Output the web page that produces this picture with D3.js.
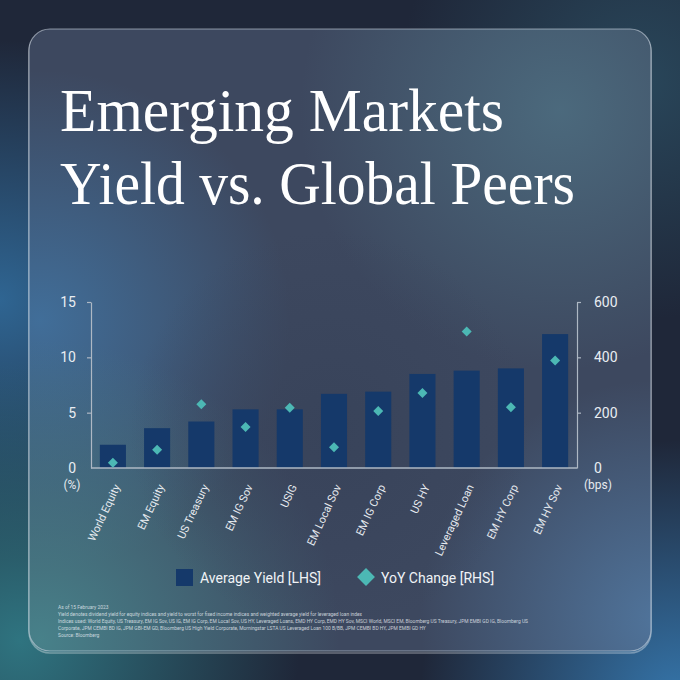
<!DOCTYPE html>
<html>
<head>
<meta charset="utf-8">
<script src="https://cdn.jsdelivr.net/npm/d3@7"></script>
<style>
  html, body { margin: 0; padding: 0; background: #222b40; }
  svg { display: block; }
  .axis path, .axis line { stroke: #aeb8c4; stroke-width: 1.2; }
  .axis text { fill: #e9edf2; font-family: Roboto, "Noto Sans", sans-serif; font-size: 14px; }
</style>
</head>
<body>
<div id="chart"></div>
<script>
// chart values
var categories = ['World Equity', 'EM Equity', 'US Treasury', 'EM IG Sov', 'USIG', 'EM Local Sov',
  'EM IG Corp', 'US HY', 'Leveraged Loan', 'EM HY Corp', 'EM HY Sov'];
var avgYield = [2.1, 3.6, 4.2, 5.3, 5.3, 6.7, 6.9, 8.5, 8.8, 9.0, 12.1];
var yoyChange = [19, 66, 230, 148, 218, 75, 206, 271, 493, 220, 389];
var leftTicks = [0, 5, 10, 15];
var rightTicks = [0, 200, 400, 600];
var titleLines = ['Emerging Markets', 'Yield vs. Global Peers'];
var legendLabels = ['Average Yield [LHS]', 'YoY Change [RHS]'];
var notes = [
  'As of 15 February 2023',
  'Yield denotes dividend yield for equity indices and yield to worst for fixed income indices and weighted average yield for leveraged loan index',
  'Indices used: World Equity, US Treasury, EM IG Sov, US IG, EM IG Corp, EM Local Sov, US HY, Leveraged Loans, EMD HY Corp, EMD HY Sov, MSCI World, MSCI EM, Bloomberg US Treasury, JPM EMBI GD IG, Bloomberg US',
  'Corporate, JPM CEMBI BD IG, JPM GBI-EM GD, Bloomberg US High Yield Corporate, Morningstar LSTA US Leveraged Loan 100 B/BB, JPM CEMBI BD HY, JPM EMBI GD HY',
  'Source: Bloomberg'
];

var W = 680, H = 680;
var barColor = '#15396a';
var dotColor = '#4cb8b4';

var svg = d3.select('#chart').append('svg')
  .attr('width', W)
  .attr('height', H);

var defs = svg.append('defs');

// soft colour blob helper
var blob = function (id, color, opacity) {
  var g = defs.append('radialGradient').attr('id', id);
  g.append('stop').attr('offset', '0%').attr('stop-color', color).attr('stop-opacity', opacity);
  g.append('stop').attr('offset', '100%').attr('stop-color', color).attr('stop-opacity', 0);
};
blob('bgLeft', '#2f6592', 1);
blob('bgTeal', '#2f7480', 1);
blob('bgRight', '#3575aa', 1);
blob('bgTop', '#2a4a5e', 0.9);
blob('cLeft', '#41709c', 0.95);
blob('cTeal', '#48848c', 0.95);
blob('cTopRight', '#4d6d80', 0.9);
blob('cBotRight', '#5279a2', 0.9);
blob('cMid', '#374259', 0.8);

// page background
svg.append('rect').attr('width', W).attr('height', H).attr('fill', '#1f2739');
var bgBlobs = [
  {id: 'bgLeft', cx: 0, cy: 300, r: 260},
  {id: 'bgTeal', cx: 20, cy: 640, r: 280},
  {id: 'bgRight', cx: 680, cy: 700, r: 260},
  {id: 'bgTop', cx: 640, cy: 80, r: 240}
];
svg.selectAll('ellipse.bg').data(bgBlobs).enter().append('ellipse')
  .attr('class', 'bg')
  .attr('cx', function (d) { return d.cx; })
  .attr('cy', function (d) { return d.cy; })
  .attr('rx', function (d) { return d.r; })
  .attr('ry', function (d) { return d.r; })
  .attr('fill', function (d) { return 'url(#' + d.id + ')'; });

// card
var card = {x: 29, y: 29, w: 622, h: 622, r: 21};
defs.append('clipPath').attr('id', 'cardClip')
  .append('rect')
  .attr('x', card.x).attr('y', card.y)
  .attr('width', card.w).attr('height', card.h)
  .attr('rx', card.r);

svg.append('rect')
  .attr('x', card.x).attr('y', card.y + 2)
  .attr('width', card.w).attr('height', card.h)
  .attr('rx', card.r)
  .attr('fill', 'none')
  .attr('stroke', 'rgba(255,255,255,0.35)')
  .attr('stroke-width', 1.5);

var cardG = svg.append('g').attr('clip-path', 'url(#cardClip)');
cardG.append('rect')
  .attr('x', card.x).attr('y', card.y)
  .attr('width', card.w).attr('height', card.h)
  .attr('fill', '#3d485f');
var cardBlobs = [
  {id: 'cLeft', cx: 40, cy: 320, r: 250},
  {id: 'cTeal', cx: 40, cy: 640, r: 300},
  {id: 'cTopRight', cx: 560, cy: 110, r: 260},
  {id: 'cBotRight', cx: 660, cy: 620, r: 240},
  {id: 'cMid', cx: 330, cy: 430, r: 200}
];
cardG.selectAll('ellipse').data(cardBlobs).enter().append('ellipse')
  .attr('cx', function (d) { return d.cx; })
  .attr('cy', function (d) { return d.cy; })
  .attr('rx', function (d) { return d.r; })
  .attr('ry', function (d) { return d.r; })
  .attr('fill', function (d) { return 'url(#' + d.id + ')'; });

svg.append('rect')
  .attr('x', card.x).attr('y', card.y)
  .attr('width', card.w).attr('height', card.h)
  .attr('rx', card.r)
  .attr('fill', 'none')
  .attr('stroke', 'rgba(220,230,240,0.55)')
  .attr('stroke-width', 1.2);

// title
var titleWidths = [444, 515];
svg.selectAll('text.title').data(titleLines).enter().append('text')
  .attr('class', 'title')
  .attr('x', 60)
  .attr('y', function (d, i) { return 131 + i * 73; })
  .attr('textLength', function (d, i) { return titleWidths[i]; })
  .attr('lengthAdjust', 'spacingAndGlyphs')
  .style('font-family', '"Liberation Serif", "DejaVu Serif", serif')
  .style('font-size', '61px')
  .style('fill', '#ffffff')
  .text(function (d) { return d; });

// scales
var plot = {left: 91, right: 577, top: 302, bottom: 468};
var x = d3.scaleBand().domain(categories).range([plot.left, plot.right]).paddingInner(0.41).paddingOuter(0.2);
var yL = d3.scaleLinear().domain([0, 15]).range([plot.bottom, plot.top]);
var yR = d3.scaleLinear().domain([0, 600]).range([plot.bottom, plot.top]);

// bars
svg.selectAll('rect.bar').data(avgYield).enter().append('rect')
  .attr('class', 'bar')
  .attr('x', function (d, i) { return x(categories[i]); })
  .attr('width', x.bandwidth())
  .attr('y', function (d) { return yL(d); })
  .attr('height', function (d) { return yL(0) - yL(d); })
  .attr('fill', barColor);

// axes
var axL = svg.append('g').attr('class', 'axis')
  .attr('transform', 'translate(' + plot.left + ',0)')
  .call(d3.axisLeft(yL).tickValues(leftTicks).tickSize(4).tickSizeOuter(0).tickPadding(11));
var axR = svg.append('g').attr('class', 'axis')
  .attr('transform', 'translate(' + plot.right + ',0)')
  .call(d3.axisRight(yR).tickValues(rightTicks).tickSize(4).tickSizeOuter(0).tickPadding(13));
axL.select('.tick:first-of-type line').remove();
axR.select('.tick:first-of-type line').remove();

svg.append('line')
  .attr('x1', plot.left).attr('x2', plot.right)
  .attr('y1', plot.bottom).attr('y2', plot.bottom)
  .attr('stroke', '#aeb8c4').attr('stroke-width', 1.4);

// diamonds
var diamond = d3.symbol().type(d3.symbolSquare).size(50);
svg.selectAll('path.dot').data(yoyChange).enter().append('path')
  .attr('class', 'dot')
  .attr('d', diamond)
  .attr('transform', function (d, i) {
    return 'translate(' + (x(categories[i]) + x.bandwidth() / 2) + ',' + yR(d) + ') rotate(45)';
  })
  .attr('fill', dotColor);

// category labels
svg.selectAll('text.cat').data(categories).enter().append('text')
  .attr('class', 'cat')
  .attr('transform', function (d) {
    return 'translate(' + (x(d) + x.bandwidth() / 2 + 4) + ',485) rotate(-65)';
  })
  .attr('text-anchor', 'end')
  .attr('dy', '0.35em')
  .attr('font-family', 'Roboto')
  .attr('font-size', 11)
  .attr('fill', '#e6eaef')
  .text(function (d) { return d; });

// unit labels
svg.append('text').attr('x', 72).attr('y', 489).attr('text-anchor', 'middle')
  .attr('font-family', 'Roboto').attr('font-size', 12).attr('fill', '#e6eaef')
  .text('(%)');
svg.append('text').attr('x', 598).attr('y', 489).attr('text-anchor', 'middle')
  .attr('font-family', 'Roboto').attr('font-size', 12).attr('fill', '#e6eaef')
  .text('(bps)');

// legend
var leg = svg.append('g').attr('font-family', 'Roboto').attr('font-size', 14).attr('fill', '#f0f3f6');
leg.append('rect').attr('x', 176).attr('y', 569).attr('width', 17).attr('height', 17).attr('fill', barColor);
leg.append('text').attr('x', 200).attr('y', 583).text(legendLabels[0]);
leg.append('path')
  .attr('d', d3.symbol().type(d3.symbolSquare).size(160))
  .attr('transform', 'translate(366,577) rotate(45)')
  .attr('fill', dotColor);
leg.append('text').attr('x', 381).attr('y', 583).text(legendLabels[1]);

// footnotes: squeeze horizontally so the long line ends where the original does
var noteText = svg.selectAll('text.note').data(notes).enter().append('text')
  .attr('class', 'note')
  .attr('x', 58)
  .attr('y', function (d, i) { return 609 + i * 7; })
  .attr('font-family', 'Roboto')
  .attr('font-size', 5.8)
  .attr('fill', 'rgba(235,240,245,0.8)')
  .text(function (d) { return d; });
var squeeze = 470 / noteText.nodes()[2].getComputedTextLength();
noteText.each(function () {
  d3.select(this)
    .attr('textLength', this.getComputedTextLength() * squeeze)
    .attr('lengthAdjust', 'spacingAndGlyphs');
});
</script>
</body>
</html>
